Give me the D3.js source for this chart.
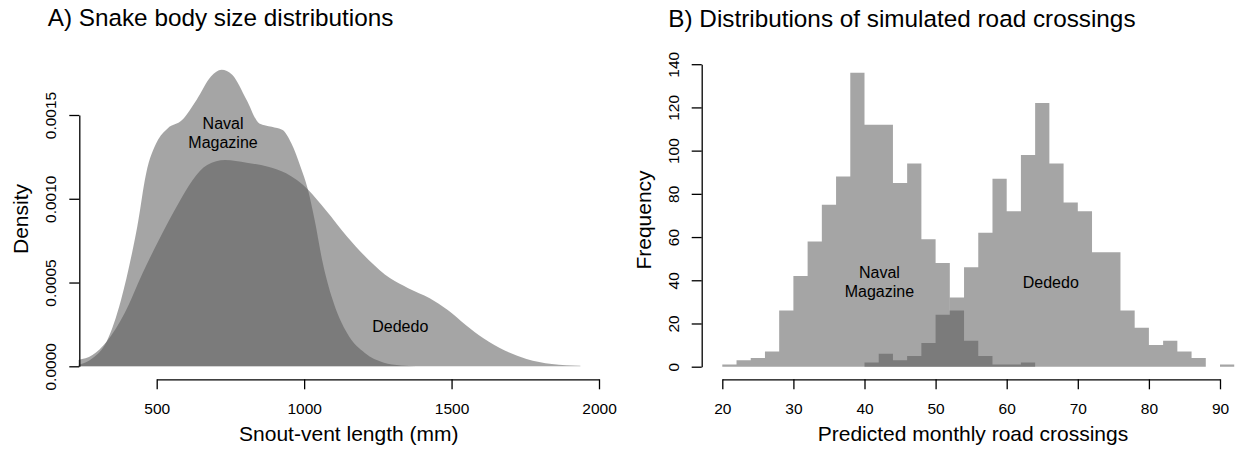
<!DOCTYPE html>
<html>
<head>
<meta charset="utf-8">
<script src="https://cdn.jsdelivr.net/npm/d3@7"></script>
<style>
  body { margin: 0; background: #fff; }
  text { font-family: "Liberation Sans", Arial, sans-serif; fill: #000; }
  .axis path, .axis line { stroke: #000; stroke-width: 1.3; }
</style>
</head>
<body>
<script>
// ---- panel A: density curves (snout-vent length in mm) ----
const navalSvl = [235, 282, 330, 379, 416, 434, 464, 501, 537, 586, 635, 684, 720, 756, 805, 848, 890, 927, 957, 988, 1012, 1036, 1061, 1097, 1146, 1207, 1268, 1329, 1380];
const navalDens = [0.000008, 0.000048, 0.000147, 0.000396, 0.000674, 0.000833, 0.00115, 0.00134, 0.00142, 0.00147, 0.00159, 0.00173, 0.00177, 0.00174, 0.00159, 0.00145, 0.00143, 0.00141, 0.00133, 0.00119, 0.00106, 0.00087, 0.000635, 0.000396, 0.000197, 0.000078, 0.000023, 0.000005, 0];

const dededoSvl = [235, 282, 330, 391, 452, 513, 574, 622, 671, 732, 805, 878, 939, 1012, 1073, 1146, 1219, 1292, 1353, 1426, 1487, 1548, 1608, 1682, 1754, 1840, 1937];
const dededoDens = [0.000038, 0.000067, 0.000147, 0.000316, 0.000555, 0.000774, 0.000973, 0.001112, 0.001201, 0.001231, 0.001215, 0.001191, 0.001152, 0.001057, 0.000933, 0.000774, 0.000635, 0.000525, 0.000466, 0.000406, 0.000336, 0.000247, 0.000167, 0.000093, 0.000044, 0.000014, 0.000004];

const svlTicks = [500, 1000, 1500, 2000];
const densTicks = [0, 0.0005, 0.0010, 0.0015];

// ---- panel B: histograms of simulated crossings, bins of 2 starting at 20 ----
const binStarts = [20, 22, 24, 26, 28, 30, 32, 34, 36, 38, 40, 42, 44, 46, 48, 50, 52, 54, 56, 58, 60, 62, 64, 66, 68, 70, 72, 74, 76, 78, 80, 82, 84, 86, 88, 90];
const navalCounts = [1, 3, 4, 7, 26, 42, 58, 75, 88, 136, 112, 112, 85, 94, 59, 48, 26, 12, 5, 1, 1, 2, 0, 0, 0, 0, 0, 0, 0, 0, 0, 0, 0, 0, 0, 0];
const dededoCounts = [0, 0, 0, 0, 0, 0, 0, 0, 0, 0, 2, 6, 3, 5, 11, 24, 32, 46, 62, 87, 72, 98, 122, 94, 76, 72, 53, 53, 26, 18, 10, 12, 7, 4, 0, 1];
const binWidth = 2;

const crossTicks = [20, 30, 40, 50, 60, 70, 80, 90];
const freqTicks = [0, 20, 40, 60, 80, 100, 120, 140];

const fillCol = 'rgb(86,86,86)';
const fillOp = 0.533;

const svg = d3.select('body').append('svg')
  .attr('width', 1239)
  .attr('height', 451);

const axisY = 379.3;

// ======== Panel A ========
const xA = d3.scaleLinear().domain([500, 2000]).range([156.7, 599]);
const yA = d3.scaleLinear().domain([0, 0.0015]).range([366.3, 115]);

const areaA = d3.area()
  .x(d => xA(d[0]))
  .y0(yA(0))
  .y1(d => yA(d[1]))
  .curve(d3.curveMonotoneX);

const gA = svg.append('g');

gA.append('path')
  .datum(d3.zip(dededoSvl, dededoDens))
  .attr('d', areaA)
  .attr('fill', fillCol)
  .attr('fill-opacity', fillOp);

gA.append('path')
  .datum(d3.zip(navalSvl, navalDens))
  .attr('d', areaA)
  .attr('fill', fillCol)
  .attr('fill-opacity', fillOp);

gA.append('g')
  .attr('class', 'axis')
  .attr('transform', `translate(0,${axisY})`)
  .call(d3.axisBottom(xA).tickValues(svlTicks).tickFormat(d3.format('d')).tickSize(10).tickSizeOuter(0).tickPadding(13.7))
  .call(g => g.selectAll('text').style('font-size', '15.5px'));

const yAxisA = gA.append('g')
  .attr('class', 'axis')
  .attr('transform', 'translate(79.3,0)')
  .call(d3.axisLeft(yA).tickValues(densTicks).tickFormat(d3.format('.4f')).tickSize(10).tickSizeOuter(0));
yAxisA.selectAll('text')
  .attr('x', null).attr('dy', null)
  .attr('text-anchor', 'middle')
  .attr('transform', 'translate(-23,0) rotate(-90)')
  .style('font-size', '15.5px');

gA.append('text')
  .attr('x', 47.7).attr('y', 26)
  .style('font-size', '24.3px')
  .text('A) Snake body size distributions');

gA.append('text')
  .attr('x', 348.8).attr('y', 441)
  .attr('text-anchor', 'middle')
  .style('font-size', '21px')
  .text('Snout-vent length (mm)');

gA.append('text')
  .attr('transform', 'translate(28.3,219) rotate(-90)')
  .attr('text-anchor', 'middle')
  .style('font-size', '21px')
  .text('Density');

gA.append('text')
  .attr('x', xA(725)).attr('y', 129)
  .attr('text-anchor', 'middle')
  .style('font-size', '16px')
  .text('Naval');
gA.append('text')
  .attr('x', xA(725)).attr('y', 148.3)
  .attr('text-anchor', 'middle')
  .style('font-size', '16px')
  .text('Magazine');
gA.append('text')
  .attr('x', xA(1326)).attr('y', 331.7)
  .attr('text-anchor', 'middle')
  .style('font-size', '16px')
  .text('Dededo');

// ======== Panel B ========
const xB = d3.scaleLinear().domain([20, 90]).range([722.3, 1220]);
const yB = d3.scaleLinear().domain([0, 140]).range([366.7, 64.2]);

// step outline of each histogram, drawn as one path so bars have no seams
function histPoints(counts) {
  const pts = binStarts.map((b, i) => [b, counts[i]]);
  pts.push([binStarts[binStarts.length - 1] + binWidth, 0]);
  return pts;
}

const areaB = d3.area()
  .x(d => xB(d[0]))
  .y0(yB(0))
  .y1(d => yB(d[1]))
  .curve(d3.curveStepAfter);

const gB = svg.append('g');

gB.append('path')
  .datum(histPoints(navalCounts))
  .attr('d', areaB)
  .attr('fill', fillCol)
  .attr('fill-opacity', fillOp);

gB.append('path')
  .datum(histPoints(dededoCounts))
  .attr('d', areaB)
  .attr('fill', fillCol)
  .attr('fill-opacity', fillOp);

gB.append('g')
  .attr('class', 'axis')
  .attr('transform', `translate(0,${axisY})`)
  .call(d3.axisBottom(xB).tickValues(crossTicks).tickSize(10).tickSizeOuter(0).tickPadding(13.7))
  .call(g => g.selectAll('text').style('font-size', '15.5px'));

const yAxisB = gB.append('g')
  .attr('class', 'axis')
  .attr('transform', 'translate(701.7,0)')
  .call(d3.axisLeft(yB).tickValues(freqTicks).tickSize(10).tickSizeOuter(0));
yAxisB.selectAll('text')
  .attr('x', null).attr('dy', null)
  .attr('text-anchor', 'middle')
  .attr('transform', 'translate(-23,0) rotate(-90)')
  .style('font-size', '15.5px');

gB.append('text')
  .attr('x', 668.3).attr('y', 26.5)
  .style('font-size', '24.3px')
  .text('B) Distributions of simulated road crossings');

gB.append('text')
  .attr('x', 973).attr('y', 441)
  .attr('text-anchor', 'middle')
  .style('font-size', '21px')
  .text('Predicted monthly road crossings');

gB.append('text')
  .attr('transform', 'translate(650.5,220) rotate(-90)')
  .attr('text-anchor', 'middle')
  .style('font-size', '21px')
  .text('Frequency');

gB.append('text')
  .attr('x', xB(42.1)).attr('y', 278.3)
  .attr('text-anchor', 'middle')
  .style('font-size', '16px')
  .text('Naval');
gB.append('text')
  .attr('x', xB(42.1)).attr('y', 297.3)
  .attr('text-anchor', 'middle')
  .style('font-size', '16px')
  .text('Magazine');
gB.append('text')
  .attr('x', xB(66.2)).attr('y', 287.7)
  .attr('text-anchor', 'middle')
  .style('font-size', '16px')
  .text('Dededo');
</script>
</body>
</html>
